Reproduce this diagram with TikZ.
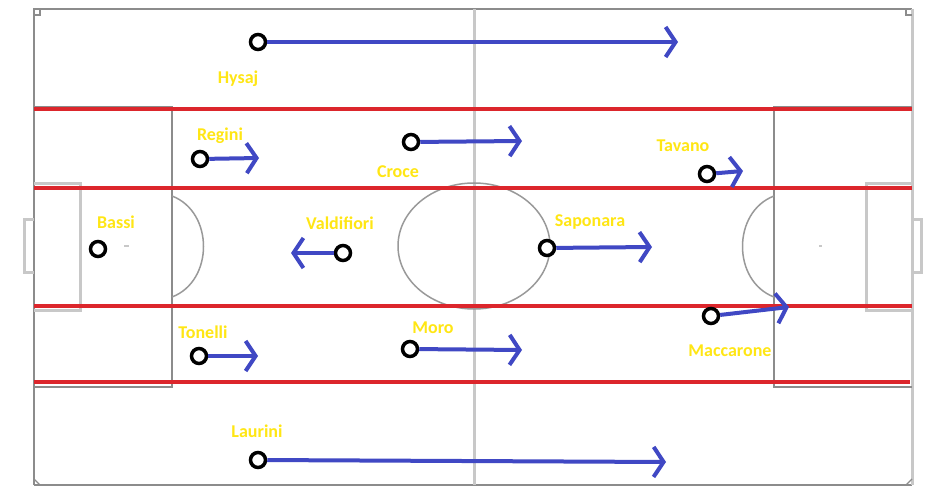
\documentclass[tikz,border=0pt]{standalone}
\usepackage{fontspec}
\setmainfont{Carlito}
\usetikzlibrary{arrows.meta}
\definecolor{pblue}{RGB}{64,72,196}
\definecolor{pred}{RGB}{220,38,44}
\definecolor{pyel}{RGB}{255,230,20}
\definecolor{lgray}{RGB}{140,140,140}
\definecolor{llgray}{RGB}{200,200,200}
\begin{document}
\begin{tikzpicture}[x=1pt,y=-1pt,
  fieldline/.style={draw=lgray,line width=2pt},
  lightline/.style={draw=llgray,line width=3pt},
  zone/.style={draw=pred,line width=4pt},
  player/.style={circle,draw=black,line width=3.5pt,minimum size=15pt,inner sep=0pt,fill=white},
  pname/.style={text=pyel,font=\bfseries\fontsize{18}{18}\selectfont,inner sep=0pt},
  run/.style={draw=pblue,line width=4pt,-{Straight Barb[length=10pt,width=30pt,line width=4pt]}}]
\useasboundingbox (0,0) rectangle (942,494);
\fill[white] (0,0) rectangle (942,494);
% field
\draw[fieldline] (34,485) -- (34,9) -- (912,9);
\draw[fieldline] (34,485) -- (912,485);
\draw[lightline] (912,9) -- (912,485);
\draw[lightline] (474,9) -- (474,485);
\draw[draw=gray!80,line width=1.5pt] (474,246) ellipse (76 and 63);
% left penalty area
\draw[fieldline] (34,107) -- (172,107) -- (172,387) -- (34,387);
\draw[draw=gray!80,line width=1.5pt] (172,196) .. controls (214,212) and (214,281) .. (172,297);
\draw[lightline] (34,184) -- (80,184) -- (80,310) -- (34,310);
\draw[lightline] (34,220) -- (24,220) -- (24,273) -- (34,273);
\draw[llgray,line width=2pt] (124,246) -- (129,246);
% right penalty area
\draw[fieldline] (912,107) -- (774,107) -- (774,387) -- (912,387);
\draw[draw=gray!80,line width=1.5pt] (774,196) .. controls (732,212) and (732,281) .. (774,297);
\draw[lightline] (912,184) -- (866,184) -- (866,310) -- (912,310);
\draw[lightline] (912,220) -- (921,220) -- (921,273) -- (912,273);
\draw[llgray,line width=2pt] (819,246) -- (822,246);
% corners
\draw[fieldline,line width=1.2pt] (34,15) -- (40,15) -- (40,9);
\draw[fieldline,line width=1.2pt] (34,479) -- (40,485);
\draw[fieldline,line width=1.2pt] (906,9) -- (906,15) -- (912,15);
\draw[fieldline,line width=1.2pt] (906,485) -- (912,479);
% red zone lines
\draw[zone] (34,109) -- (912,109);
\draw[zone] (34,188) -- (912,188);
\draw[zone] (34,306) -- (912,306);
\draw[zone] (34,382) -- (910,382);
% players
\node[player] (hysaj) at (258,42) {};
\node[player] (regini) at (200,159) {};
\node[player] (croce) at (411,142) {};
\node[player] (tavano) at (707,174) {};
\node[player] (bassi) at (98,249) {};
\node[player] (valdi) at (343,253) {};
\node[player] (sapo) at (547,248) {};
\node[player] (tonelli) at (199,356) {};
\node[player] (moro) at (410,349) {};
\node[player] (macca) at (711,316) {};
\node[player] (laurini) at (258,460) {};
% run targets
\coordinate (hysajT) at (678,42);
\coordinate (reginiT) at (259,158);
\coordinate (croceT) at (522,141);
\coordinate (tavanoT) at (743,171);
\coordinate (valdiT) at (291,253);
\coordinate (sapoT) at (652,247);
\coordinate (tonelliT) at (258,356);
\coordinate (moroT) at (522,350);
\coordinate (maccaT) at (789,307);
\coordinate (lauriniT) at (666,462);
\draw[run] (hysaj) -- (hysajT);
\draw[run] (regini) -- (reginiT);
\draw[run] (croce) -- (croceT);
\draw[run] (tavano) -- (tavanoT);
\draw[run] (valdi) -- (valdiT);
\draw[run] (sapo) -- (sapoT);
\draw[run] (tonelli) -- (tonelliT);
\draw[run] (moro) -- (moroT);
\draw[run] (macca) -- (maccaT);
\draw[run] (laurini) -- (lauriniT);
% names
\node[pname] (lhysaj) at (238,79) {Hysaj};
\node[pname] (lregini) at (220,136) {Regini};
\node[pname] (lcroce) at (398,172) {Croce};
\node[pname] (ltavano) at (683,146) {Tavano};
\node[pname] (lbassi) at (116,222) {Bassi};
\node[pname] (lvaldi) at (340,223) {Valdifiori};
\node[pname] (lsapo) at (590,222) {Saponara};
\node[pname] (ltonelli) at (203,332) {Tonelli};
\node[pname] (lmoro) at (433,328) {Moro};
\node[pname] (lmacca) at (730,351) {Maccarone};
\node[pname] (llaurini) at (257,431) {Laurini};
\end{tikzpicture}
\end{document}
